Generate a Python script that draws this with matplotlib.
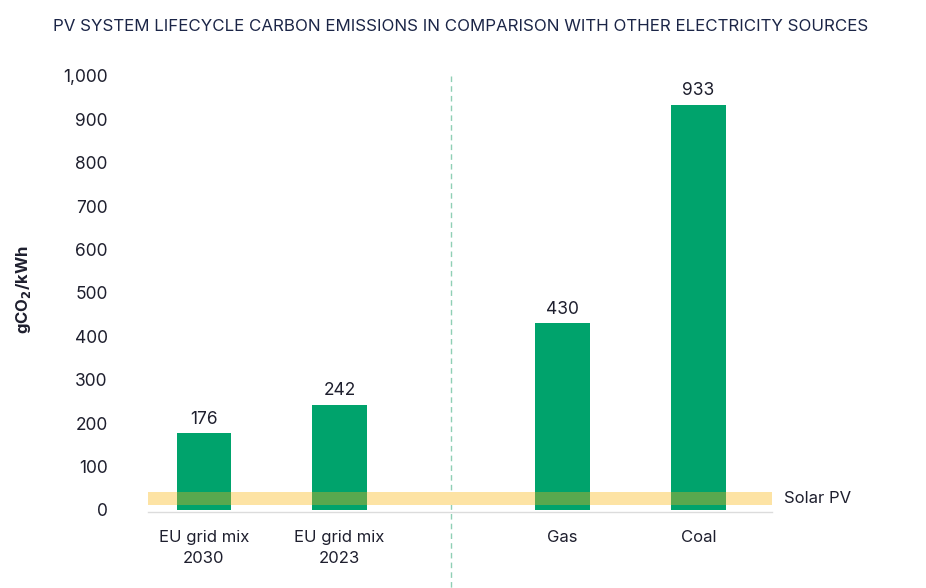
import matplotlib
matplotlib.use("Agg")
from matplotlib import pyplot as plt
from matplotlib import transforms

categories = ["EU grid mix\n2030", "EU grid mix\n2023", "Gas", "Coal"]
emissions = [176, 242, 430, 933]
positions = [0, 1, 2.64, 3.64]
solar_pv_range = (10, 41)
y_ticks = [0, 100, 200, 300, 400, 500, 600, 700, 800, 900, 1000]

GREEN = "#00a36c"
YELLOW = "#fde3a4"
OVERLAP = "#59a84e"
TEXT = "#1e1f2e"
TITLE = "#1b2547"

plt.rcParams["font.family"] = ["Inter", "DejaVu Sans"]

fig = plt.figure(figsize=(9.26, 5.88), dpi=100)
ax = fig.add_axes([0.1598, 0.1293, 0.6739, 0.7415])

# solar PV band behind the bars
ax.axhspan(solar_pv_range[0], solar_pv_range[1], color=YELLOW, zorder=1, lw=0)

bars = ax.bar(positions, emissions, width=0.4, color=GREEN, zorder=2)
# where the band crosses a bar
ax.bar(positions, solar_pv_range[1] - solar_pv_range[0], bottom=solar_pv_range[0],
       width=0.4, color=OVERLAP, zorder=3)

for x, v in zip(positions, emissions):
    ax.annotate(f"{v}", (x, v), xytext=(0, 4), textcoords="offset points",
                ha="center", va="bottom", fontsize=12.5, color=TEXT)

ax.text(1.02, (solar_pv_range[0] + solar_pv_range[1]) / 2, "Solar PV",
        transform=transforms.blended_transform_factory(ax.transAxes, ax.transData),
        ha="left", va="center", fontsize=12, color=TEXT)

# separator between grid mixes and fossil sources
mid = (positions[1] + positions[2]) / 2
ax.plot([mid, mid], [1.0, -0.18], ls=(0, (4, 3)), lw=1, color="#8fcfb5",
        transform=transforms.blended_transform_factory(ax.transData, ax.transAxes),
        clip_on=False, zorder=0)

ax.set_xlim(-0.41, 4.18)
ax.set_ylim(-5, 1000)
ax.set_xticks(positions)
ax.set_xticklabels(categories, fontsize=12, color=TEXT, linespacing=1.5)
ax.set_yticks(y_ticks)
ax.set_yticklabels([f"{t:,}" for t in y_ticks], fontsize=12.5, color=TEXT)
ax.tick_params(length=0)
ax.tick_params(axis="x", pad=13)
ax.tick_params(axis="y", pad=29)

for side in ["left", "right", "top"]:
    ax.spines[side].set_visible(False)
ax.spines["bottom"].set_color("#dcdcdc")
ax.spines["bottom"].set_linewidth(1)

ax.set_ylabel(r"gCO$_\mathbf{2}$/kWh", fontsize=12, fontweight="bold", color=TEXT)
ax.yaxis.set_label_coords(-0.184, 0.51)

fig.text(0.497, 0.955, "PV SYSTEM LIFECYCLE CARBON EMISSIONS IN COMPARISON WITH OTHER ELECTRICITY SOURCES",
         ha="center", va="center", fontsize=12.2, color=TITLE)

fig.savefig("out.png", dpi=100)
